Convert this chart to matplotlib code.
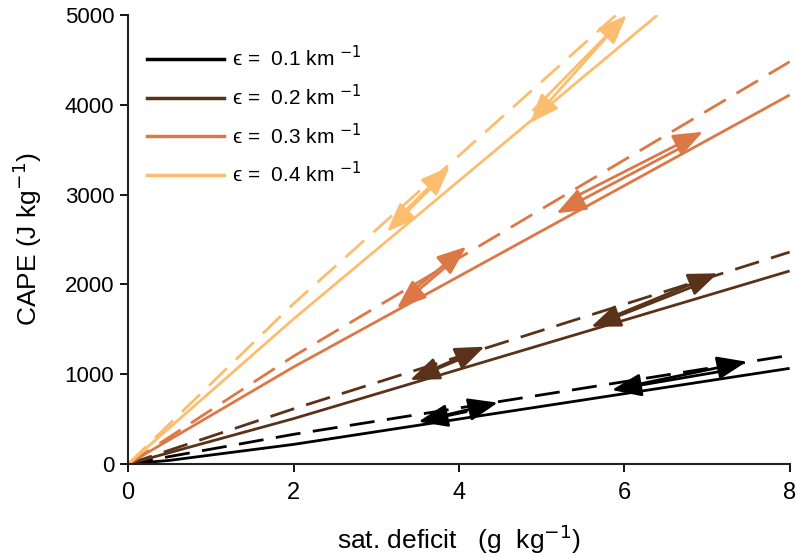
import matplotlib
matplotlib.use('Agg')
import matplotlib.pyplot as plt
from matplotlib.lines import Line2D

# entrainment rates and colours
eps_labels = ['0.1', '0.2', '0.3', '0.4']
colors = ['#000000', '#5a3219', '#dc7846', '#fcbe6e']

# solid lines (sat. deficit g/kg, CAPE J/kg)
solid_x = [[0, 0.5, 2, 8], [0, 2, 8], [0, 2, 8], [0, 2, 6.4]]
solid_y = [[0, 40, 218, 1065], [0, 505, 2150], [0, 1080, 4110], [0, 1615, 5000]]

# dashed lines
dash_x = [[0, 2, 8], [0, 2, 8], [0, 2, 8], [0, 2, 5.9]]
dash_y = [[0, 330, 1210], [0, 614, 2360], [0, 1200, 4480], [0, 1785, 5000]]

# arrows: (tail x, tail y, head x, head y)
arrows = [
    [(3.69, 512, 4.47, 683), (4.09, 582, 3.51, 471),
     (5.95, 846, 7.48, 1139), (7.27, 1047, 5.85, 824)],
    [(3.55, 1000, 4.31, 1306), (4.1, 1200, 3.41, 935),
     (5.75, 1600, 7.13, 2124), (6.9, 2000, 5.6, 1529)],
    [(3.4, 1900, 4.09, 2420), (3.95, 2280, 3.25, 1734),
     (5.35, 2950, 6.95, 3700), (6.7, 3530, 5.18, 2792)],
    [(3.2, 2684, 3.89, 3311), (3.8, 3200, 3.13, 2587),
     (4.9, 3942, 6.03, 5000), (5.86, 4833, 4.86, 3797)],
]

xticks = [0, 2, 4, 6, 8]
yticks = [0, 1000, 2000, 3000, 4000, 5000]

plt.rcParams['font.family'] = ['Liberation Sans', 'DejaVu Sans']

fig = plt.figure(figsize=(7.96, 5.59), dpi=100)
ax = fig.add_axes([0.161, 0.170, 0.831, 0.803])

for i, c in enumerate(colors):
    ax.plot(solid_x[i], solid_y[i], color=c, lw=2.0, solid_capstyle='butt')
    ax.plot(dash_x[i], dash_y[i], color=c, lw=2.0, dashes=(9, 4.5))
    for (x0, y0, x1, y1) in arrows[i]:
        ax.annotate('', xy=(x1, y1), xytext=(x0, y0),
                    arrowprops=dict(arrowstyle='-|>,head_length=0.9,head_width=0.35',
                                    color=c, lw=2.0, shrinkA=0, shrinkB=0,
                                    mutation_scale=20))

ax.set_xlim(0, 8)
ax.set_ylim(0, 5000)
ax.set_xticks(xticks)
ax.set_yticks(yticks)

ax.spines['top'].set_visible(False)
ax.spines['right'].set_visible(False)
for s in ['left', 'bottom']:
    ax.spines[s].set_linewidth(1.5)
    ax.spines[s].set_color('#222222')

ax.tick_params(axis='y', labelsize=16, length=6, width=1.3, pad=4)
ax.tick_params(axis='x', labelsize=17, length=6, width=1.3, pad=7)

ax.set_ylabel('CAPE (J kg$^{-1}$)', fontsize=19, labelpad=15)
ax.set_xlabel('sat. deficit   (g  kg$^{-1}$)', fontsize=19, labelpad=13)

handles = [Line2D([0], [0], color=c, lw=2.5) for c in colors]
labels = ['\u03f5 =  %s km $^{-1}$' % e for e in eps_labels]
ax.legend(handles, labels, loc='upper left', bbox_to_anchor=(0.0, 0.975),
          frameon=False, fontsize=15, handlelength=3.7, labelspacing=0.65,
          handletextpad=0.4, borderaxespad=0.5)

fig.savefig('out.png', dpi=100)
